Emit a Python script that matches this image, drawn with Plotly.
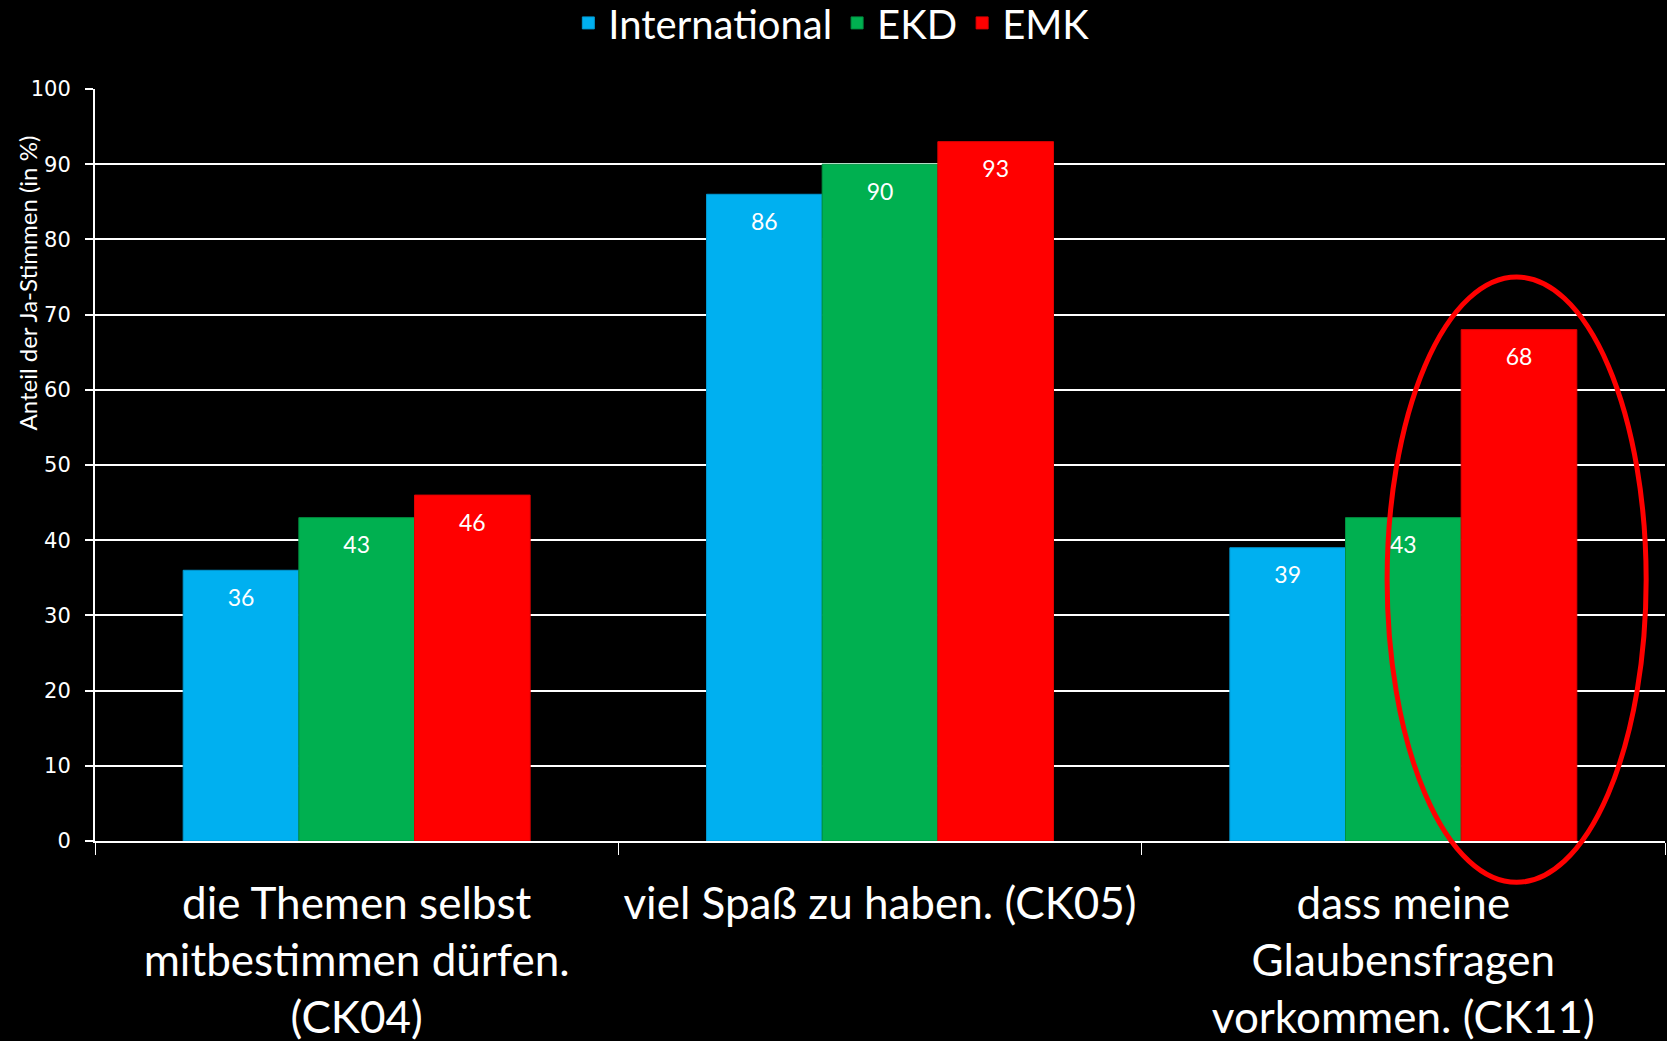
import plotly.graph_objects as go

categories = [
    "die Themen selbst<br>mitbestimmen dürfen.<br>(CK04)",
    "viel Spaß zu haben. (CK05)",
    "dass meine<br>Glaubensfragen<br>vorkommen. (CK11)",
]
series_names = ["International", "EKD", "EMK"]
international = [36, 86, 39]
ekd = [43, 90, 43]
emk = [46, 93, 68]
series_values = [international, ekd, emk]
colors = ["#00B0F0", "#00B050", "#FF0000"]
line_colors = ["#0098D0", "#009040", "#E00000"]
y_ticks = [0, 10, 20, 30, 40, 50, 60, 70, 80, 90, 100]
y_title = "Anteil der Ja-Stimmen (in %)"

LABEL_FONT = "Lato, 'Open Sans', sans-serif"

fig = go.Figure()
for i, (name, vals) in enumerate(zip(series_names, series_values)):
    fig.add_trace(go.Bar(
        name=name, x=categories, y=vals,
        marker=dict(color=colors[i], line=dict(color=line_colors[i], width=1)),
        offsetgroup=str(i), alignmentgroup="a",
        hoverinfo="skip",
    ))
for i, (name, vals) in enumerate(zip(series_names, series_values)):
    fig.add_trace(go.Scatter(
        x=categories, y=vals, mode="markers+text",
        text=[str(v) for v in vals], textposition="bottom center",
        textfont=dict(family=LABEL_FONT, size=23, color="white"),
        marker=dict(size=28, color="rgba(0,0,0,0)"),
        offsetgroup=str(i), alignmentgroup="a",
        showlegend=False, hoverinfo="skip", cliponaxis=False,
    ))

fig.add_shape(
    type="circle", xref="x domain", yref="paper",
    x0=0.823, x1=0.988, y0=-0.055, y1=0.75,
    line=dict(color="#FF0000", width=5), layer="above",
)

fig.add_annotation(
    text=y_title, textangle=-90, xref="paper", yref="paper",
    x=-0.043, y=0.742, xanchor="center", yanchor="middle", showarrow=False,
    font=dict(family=LABEL_FONT, size=24, color="white"),
)

fig.update_layout(
    width=1667, height=1041,
    paper_bgcolor="black", plot_bgcolor="black",
    margin=dict(l=95, r=2, t=89, b=200),
    barmode="group", bargap=0.337, bargroupgap=0.0,
    scattermode="group",
    font=dict(family=LABEL_FONT, color="white"),
    legend=dict(
        orientation="h", xref="container", yref="container",
        x=0.499, xanchor="center", y=0.978, yanchor="middle",
        font=dict(family=LABEL_FONT, size=40, color="white"),
        bgcolor="rgba(0,0,0,0)",
    ),
    xaxis=dict(
        type="category", showgrid=False, showline=True, linecolor="white", linewidth=2,
        ticks="outside", tickson="boundaries", ticklen=12, tickcolor="white", tickwidth=1,
        tickfont=dict(family=LABEL_FONT, size=44, color="white"),
        ticklabelstandoff=23, automargin=False,
    ),
    yaxis=dict(
        range=[0, 100], tickvals=y_ticks, showgrid=True, gridcolor="white", gridwidth=2,
        showline=True, linecolor="white", linewidth=2,
        ticks="outside", ticklen=8, tickcolor="white", tickwidth=2,
        tickfont=dict(family="'DejaVu Sans', Verdana, sans-serif", size=21, color="white"),
        ticklabelstandoff=10, automargin=False,
        zeroline=False,
    ),
)

fig.write_html(
    "out.html",
    config={"displayModeBar": False},
    post_script="document.body.style.margin='0';document.body.style.background='black';",
)
